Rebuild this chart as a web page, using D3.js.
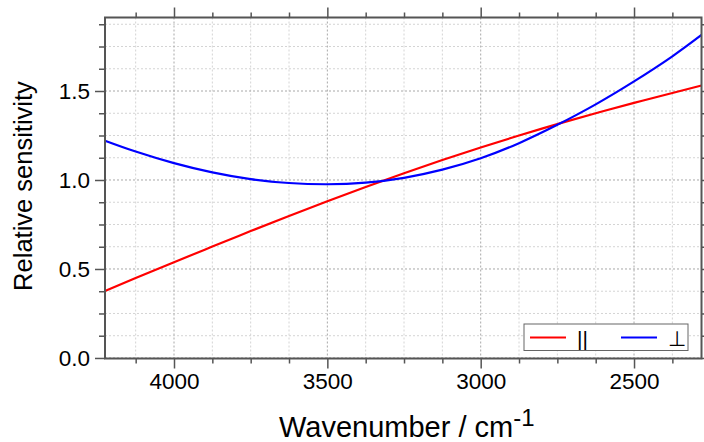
<!DOCTYPE html>
<html>
<head>
<meta charset="utf-8">
<script src="https://cdn.jsdelivr.net/npm/d3@7"></script>
<style>
  html, body { margin: 0; padding: 0; background: #fff; }
  svg { display: block; font-family: "Liberation Sans", Arial, sans-serif; }
</style>
</head>
<body>
<svg id="chart" width="704" height="442"></svg>
<script>
// ---- data ----
const wavenumbers = [4225, 4125, 4000, 3875, 3750, 3625, 3500, 3375, 3250, 3125, 3000, 2875, 2750, 2625, 2500, 2375, 2280];
const parallel    = [0.376, 0.449, 0.538, 0.626, 0.713, 0.798, 0.881, 0.961, 1.038, 1.112, 1.183, 1.250, 1.314, 1.375, 1.433, 1.489, 1.531];
const perpendicular = [1.221, 1.160, 1.095, 1.043, 1.005, 0.983, 0.976, 0.985, 1.012, 1.058, 1.122, 1.207, 1.310, 1.425, 1.554, 1.695, 1.815];
const seriesNames = ["||", "\u22A5"];
const seriesColors = ["#ff0000", "#0000ff"];
const xMajorTicks = [4000, 3500, 3000, 2500];
const yMajorTicks = [0.0, 0.5, 1.0, 1.5];
const xMinorStep = 125;
const yMinorStep = 0.125;
const xTitle = "Wavenumber / cm";
const xTitleSup = "-1";
const yTitle = "Relative sensitivity";

// ---- layout ----
const L = 105, R = 701.5, T = 17.5, B = 358.5;
const svg = d3.select("#chart");

const x = d3.scaleLinear().domain([4225, 2280]).range([L, R]);
const y = d3.scaleLinear().domain([-0.003, 1.913]).range([B, T]);

const xMinor = d3.range(4125, 2280, -xMinorStep).filter(v => !xMajorTicks.includes(v));
const yMinor = d3.range(0.125, 1.9, yMinorStep).filter(v => !yMajorTicks.some(m => Math.abs(m - v) < 1e-6));

// grid
const grid = svg.append("g");
grid.selectAll(".gxm").data(xMinor).join("line")
  .attr("x1", d => x(d)).attr("x2", d => x(d)).attr("y1", T).attr("y2", B)
  .attr("stroke", "#d4d4d4").attr("stroke-width", 1).attr("stroke-dasharray", "2,2");
grid.selectAll(".gym").data(yMinor).join("line")
  .attr("x1", L).attr("x2", R).attr("y1", d => y(d)).attr("y2", d => y(d))
  .attr("stroke", "#d4d4d4").attr("stroke-width", 1).attr("stroke-dasharray", "2,2");
grid.selectAll(".gxM").data(xMajorTicks).join("line")
  .attr("x1", d => x(d)).attr("x2", d => x(d)).attr("y1", T).attr("y2", B)
  .attr("stroke", "#a8a8a8").attr("stroke-width", 1).attr("stroke-dasharray", "2,2");
grid.selectAll(".gyM").data(yMajorTicks).join("line")
  .attr("x1", L).attr("x2", R).attr("y1", d => y(d)).attr("y2", d => y(d))
  .attr("stroke", "#a8a8a8").attr("stroke-width", 1).attr("stroke-dasharray", "2,2");

// curves
const pts = s => wavenumbers.map((w, i) => [w, s[i]]);
const line = d3.line().x(d => x(d[0])).y(d => y(d[1])).curve(d3.curveNatural);
[parallel, perpendicular].forEach((s, i) => {
  svg.append("path").datum(pts(s)).attr("d", line)
    .attr("fill", "none").attr("stroke", seriesColors[i]).attr("stroke-width", 2.2);
});

// axes
const axisColor = "#555";
function styleAxis(g) {
  g.select(".domain").remove();
  g.selectAll("line").attr("stroke", axisColor).attr("stroke-width", 1.5);
  g.selectAll("text").attr("fill", "#000").style("font-size", "22.5px");
}
const fmtY = d3.format(".1f");
// bottom
svg.append("g").attr("transform", `translate(0,${B})`)
  .call(d3.axisBottom(x).tickValues(xMajorTicks).tickSize(10).tickPadding(5).tickFormat(d3.format("d"))).call(styleAxis);
svg.append("g").attr("transform", `translate(0,${B})`)
  .call(d3.axisBottom(x).tickValues(xMinor).tickSize(5).tickFormat("")).call(styleAxis);
// top
svg.append("g").attr("transform", `translate(0,${T})`)
  .call(d3.axisTop(x).tickValues(xMajorTicks).tickSize(10).tickFormat("")).call(styleAxis);
svg.append("g").attr("transform", `translate(0,${T})`)
  .call(d3.axisTop(x).tickValues(xMinor).tickSize(5).tickFormat("")).call(styleAxis);
// left
svg.append("g").attr("transform", `translate(${L},0)`)
  .call(d3.axisLeft(y).tickValues(yMajorTicks).tickSize(10).tickPadding(5).tickFormat(fmtY)).call(styleAxis);
svg.append("g").attr("transform", `translate(${L},0)`)
  .call(d3.axisLeft(y).tickValues(yMinor).tickSize(6).tickFormat("")).call(styleAxis);
// right
svg.append("g").attr("transform", `translate(${R},0)`)
  .call(d3.axisRight(y).tickValues(yMajorTicks).tickSize(10).tickFormat("")).call(styleAxis);
svg.append("g").attr("transform", `translate(${R},0)`)
  .call(d3.axisRight(y).tickValues(yMinor).tickSize(6).tickFormat("")).call(styleAxis);

// frame
svg.append("rect").attr("x", L).attr("y", T).attr("width", R - L).attr("height", B - T)
  .attr("fill", "none").attr("stroke", axisColor).attr("stroke-width", 2);

// titles
const xt = svg.append("text").attr("x", 279).attr("y", 437).attr("fill", "#000").style("font-size", "29px");
xt.append("tspan").text(xTitle);
xt.append("tspan").attr("dy", -11).style("font-size", "24px").text(xTitleSup);

svg.append("text").attr("transform", "translate(32,186) rotate(-90)")
  .attr("text-anchor", "middle").attr("fill", "#000").style("font-size", "25.5px").text(yTitle);

// legend
const lg = svg.append("g");
lg.append("rect").attr("x", 524).attr("y", 324).attr("width", 164).attr("height", 26.5)
  .attr("fill", "#fff").attr("stroke", "#666").attr("stroke-width", 1);
const legendX = [530, 621];
seriesNames.forEach((n, i) => {
  lg.append("line").attr("x1", legendX[i]).attr("x2", legendX[i] + 36).attr("y1", 337.5).attr("y2", 337.5)
    .attr("stroke", seriesColors[i]).attr("stroke-width", 2);
  lg.append("text").attr("x", legendX[i] + 47).attr("y", 345.5).attr("fill", "#000")
    .style("font-size", "21px").text(n);
});
</script>
</body>
</html>
